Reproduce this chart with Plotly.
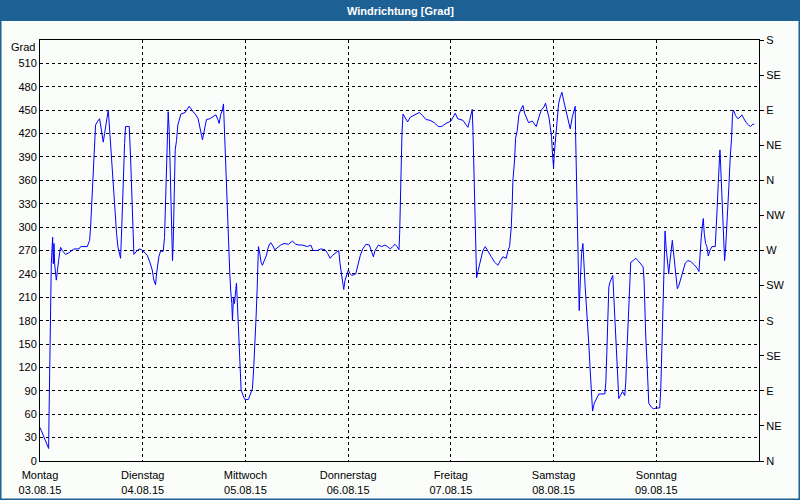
import pandas as pd
import plotly.graph_objects as go

# ---------------- data ----------------
hours = [
    0, 2.02, 2.09, 2.25, 2.48, 2.64, 2.95, 3.11, 3.26, 3.42, 3.81, 4.04, 4.35, 4.66, 4.82, 5.21, 5.98, 6.76,
    7.39, 7.93, 9.10, 9.49, 11.04, 11.59, 11.82, 12.05, 12.37, 12.6, 12.99, 13.38, 13.92, 14.16, 14.54,
    14.78, 15.09, 15.4, 15.71, 15.95, 16.1, 16.33, 16.65, 16.96, 17.27, 17.58, 17.89, 18.2, 18.51, 18.83,
    19.14, 19.45, 19.76, 19.99, 20.85, 21.16, 21.47, 21.7, 21.94, 22.56, 23.1, 23.73, 24.27, 25.05, 25.67,
    26.22, 26.61, 27.0, 27.23, 27.77, 28.16, 28.79, 29.1, 29.41, 29.72, 29.95, 30.19, 30.5, 30.73, 30.96,
    31.12, 31.36, 31.59, 31.9, 32.21,
    32.52, 32.91, 33.92, 34.85, 35.63, 36.41, 36.95, 37.34, 37.73, 37.96, 38.35, 38.9, 39.68, 40.3, 41.08,
    41.55, 41.86, 42.25, 42.63, 42.87, 43.02, 43.26, 43.49, 43.72, 43.88, 44.11, 44.35, 44.58, 44.82, 44.97,
    45.2, 45.44, 45.75, 45.9, 46.06, 46.29, 46.53, 46.76, 46.99, 47.46, 47.85, 48.7, 49.17, 49.64, 49.95,
    50.26, 50.49, 50.73, 50.88, 51.04, 51.35, 51.66, 51.97, 52.44, 52.91, 53.22, 53.53, 53.92, 54.31, 54.85,
    55.48, 56.25, 57.03, 58.04, 58.98, 59.76, 60.53, 61.31, 62.48, 63.26, 63.81, 64.82, 65.6,
    66.61, 67.23, 67.77, 68.4, 69.18, 69.8, 70.11, 70.5, 70.74, 70.97, 71.28, 71.66, 72.05, 72.36, 72.83,
    73.77, 74.23, 74.86, 75.4, 76.18, 76.96, 77.35, 77.89, 78.28, 79.06, 79.83, 80.61, 81.23, 81.86, 82.4,
    82.95, 83.41, 83.88, 84.04, 84.19, 84.35, 84.58, 84.81, 85.28, 85.9, 86.52, 87.46, 88.63, 89.41, 90.19,
    91.12, 92.13, 93.07, 93.85, 94.86, 96.02, 96.41, 97.04, 97.58, 98.36,
    98.82, 99.45, 99.99, 100.4, 100.77, 101.0, 101.16, 101.39, 101.63, 101.78, 102.01, 102.32, 102.71,
    103.1, 103.49, 104.04, 104.66, 105.44, 106.22, 107.0, 107.54, 108.16, 108.94, 109.33, 109.72, 110.11,
    110.34, 110.5, 110.89, 111.12, 111.51, 111.9, 112.29, 112.84, 113.23, 113.62, 114.16, 115.02, 115.95,
    116.58, 117.12, 117.74, 118.13, 118.44, 118.91, 119.22, 119.53, 119.69, 119.84, 120.0, 120.16, 120.31,
    120.62, 120.86, 121.17, 121.56, 121.95, 122.33, 122.96, 123.42, 123.89, 124.36, 124.82, 125.06, 125.13,
    125.37, 125.6, 125.76, 125.99, 126.23, 126.54, 126.85, 127.08, 127.39, 127.71, 128.02, 128.25, 128.49,
    128.8, 129.11, 129.5, 129.96, 130.59,
    131.98, 132.21, 132.44, 132.68, 132.91, 133.22, 133.53, 133.84, 134.08, 134.31, 134.54, 134.78, 135.01,
    135.24, 135.63, 136.1, 136.64, 136.87, 137.18, 137.49, 137.8, 138.03, 138.58, 139.2, 139.75, 140.37,
    140.92, 141.15, 141.3, 141.54, 141.85, 142.0, 142.24, 142.86, 143.33, 144.03, 144.8, 145.04, 145.27,
    145.5, 145.74, 145.89, 146.05, 146.28, 146.51, 146.9, 147.13, 147.44, 147.75, 147.98, 148.29, 148.6,
    148.91, 149.22, 149.69, 150.23, 150.78, 151.4, 152.02, 152.8, 153.58, 153.97, 154.2, 154.51, 154.74,
    154.98, 155.21, 155.52, 155.83, 156.14, 156.53, 157.0, 157.78, 157.93, 158.24, 158.48, 158.71, 158.87,
    159.02, 159.26, 159.49, 159.72, 159.96, 160.19, 160.42, 160.73, 160.96, 161.28, 161.59, 161.82, 162.05,
    162.52, 163.07, 163.53, 164.0, 164.47, 165.01, 165.56, 166.02, 166.57, 166.88,
]
grad = [
    43, 16, 50, 117, 185, 253, 287, 253, 279, 253, 232, 240, 257, 270, 274, 270, 265, 267,
    270, 272, 272, 275, 275, 283, 300, 328, 356, 386, 431, 435, 439, 431, 418,
    409, 420, 433, 441, 450, 439, 418, 392, 364, 339, 309, 292, 275, 266, 260,
    305, 364, 407, 429, 429, 390, 330, 283, 265, 269, 272, 271, 268, 264, 255,
    245, 232, 226, 240, 262, 269, 269, 287, 347, 394, 448, 424, 360, 305, 257,
    279, 360, 399, 411, 431,
    437, 445, 447, 455, 449, 444, 439, 426, 418, 412, 424, 438, 439, 441, 444,
    438, 433, 445, 450, 458, 433, 403, 369, 330, 300, 270, 240, 217, 202, 180,
    210, 202, 219, 228, 210, 176, 142, 108, 91, 84, 79, 79, 86, 93, 121,
    151, 185, 219, 253, 275, 266, 255, 251, 257, 264, 272, 277, 280, 277, 271,
    274, 277, 279, 278, 282, 278, 277, 277, 275, 277, 270, 270, 272,
    271, 266, 260, 264, 268, 270, 253, 240, 230, 220, 232, 240, 245, 241, 238,
    240, 251, 264, 272, 278, 277, 270, 262, 270, 277, 275, 277, 275, 272, 275,
    278, 275, 271, 292, 334, 377, 420, 445, 441, 435, 441, 444, 447, 443, 438,
    437, 434, 429, 429, 433, 436, 440, 446, 439, 438,
    437, 432, 428, 437, 446, 451, 424, 369, 315, 262, 235, 243, 253,
    262, 270, 275, 270, 262, 255, 251, 257, 262, 260, 270, 275, 300,
    330, 360, 386, 414, 424, 444, 450, 456, 446, 441, 434, 436, 429,
    441, 450, 454, 459, 451, 441, 429, 416, 399, 386, 376, 394, 403,
    424, 446, 458, 467, 473, 463, 449, 436, 426, 441, 452, 455, 424,
    356, 292, 228, 193, 228, 266, 279, 245, 223, 195, 172, 148, 123,
    99, 64, 74, 80, 86,
    86, 101, 138, 172, 223, 230, 234, 238, 210, 180, 151, 125, 99,
    80, 84, 89, 84, 101, 146, 193, 234, 255, 257, 260, 257, 253,
    249, 232, 198, 159, 125, 91, 74, 69, 67, 68, 68, 91, 138,
    180, 232, 266, 295, 275, 257, 240, 253, 266, 283, 270, 253, 236,
    221, 224, 234, 245, 254, 257, 256, 252, 247, 243, 266, 287, 300,
    311, 292, 279, 275, 263, 270, 275, 275, 300, 326, 356, 386, 399,
    382, 352, 317, 296, 257, 272, 292, 322, 352, 390, 414, 446, 450,
    443, 439, 441, 444, 439, 434, 431, 429, 432, 432,
]
day_names = ["Montag", "Dienstag", "Mittwoch", "Donnerstag", "Freitag", "Samstag", "Sonntag"]
day_dates = ["03.08.15", "04.08.15", "05.08.15", "06.08.15", "07.08.15", "08.08.15", "09.08.15"]
left_ticks = list(range(0, 511, 30))
compass_ticks = list(range(0, 541, 45))
compass_labels = ["N", "NE", "E", "SE", "S", "SW", "W", "NW", "N", "NE", "E", "SE", "S"]
title_text = "Windrichtung [Grad]"
unit_text = "Grad"

# ---------------- figure ----------------
start = pd.Timestamp("2015-08-03")
times = start + pd.to_timedelta(hours, unit="h")
day_ticks = pd.date_range(start, periods=7, freq="D")
end = start + pd.Timedelta(days=7)

W, H = 800, 500
ML, MR, MT, MB = 40, 41, 40, 39
PW, PH = W - ML - MR, H - MT - MB


def px_x(x):
    return (x - ML) / PW


def px_y(y):
    return (H - MB - y) / PH


FONT = "Liberation Sans, Arial, sans-serif"
BLUE = "#1d6094"
BG = "#fbfdfb"

fig = go.Figure()
fig.add_trace(go.Scatter(x=times, y=grad, mode="lines",
                         line=dict(color="#0000ff", width=1),
                         hoverinfo="skip", showlegend=False))
# helper trace keeping the right-hand compass axis alive (invisible)
fig.add_trace(go.Scatter(x=times, y=grad, mode="lines", yaxis="y2",
                         line=dict(color="rgba(0,0,0,0)", width=0),
                         hoverinfo="skip", showlegend=False))

grid = dict(showgrid=True, gridcolor="black", gridwidth=1, griddash="3px,3px")

fig.update_layout(
    width=W, height=H,
    margin=dict(l=ML, r=MR, t=MT, b=MB, autoexpand=False),
    paper_bgcolor=BG, plot_bgcolor=BG,
    hovermode=False,
    font=dict(family=FONT, size=11, color="black"),
    xaxis=dict(type="date", range=[start, end], automargin=False,
               tickmode="array", tickvals=day_ticks,
               ticktext=[f"{n}<br>{d}" for n, d in zip(day_names, day_dates)],
               ticklabelstandoff=4,
               showline=True, linecolor="black", linewidth=1, mirror=True,
               ticks="", zeroline=False, **grid),
    yaxis=dict(range=[0, 540], tickmode="array", tickvals=left_ticks, automargin=False,
               showline=True, linecolor="black", linewidth=1, mirror=True,
               ticks="", zeroline=False, **grid),
    yaxis2=dict(range=[0, 540], overlaying="y", side="right", automargin=False,
                tickmode="array", tickvals=compass_ticks, ticktext=compass_labels,
                ticks="outside", ticklen=4, tickcolor="black",
                showgrid=False, showline=False, zeroline=False),
    shapes=[
        dict(type="rect", xref="paper", yref="paper",
             x0=px_x(0), x1=px_x(W), y0=px_y(21), y1=px_y(0),
             fillcolor=BLUE, line=dict(width=0), layer="above"),
        dict(type="rect", xref="paper", yref="paper",
             x0=px_x(0), x1=px_x(W), y0=px_y(H), y1=px_y(0),
             line=dict(color=BLUE, width=3), layer="above"),
    ],
    annotations=[
        dict(text=f"<b>{title_text}</b>", xref="paper", yref="paper",
             x=px_x(W / 2), y=px_y(10.5), xanchor="center", yanchor="middle",
             showarrow=False, font=dict(color="white", size=11, family=FONT)),
        dict(text=unit_text, xref="paper", yref="paper",
             x=px_x(37), y=px_y(47), xanchor="right", yanchor="middle",
             showarrow=False, font=dict(color="black", size=11, family=FONT)),
    ],
)

fig.write_html("out.html",
               config={"displayModeBar": False, "staticPlot": True},
               post_script="document.body.style.margin='0';document.body.style.overflow='hidden';")
